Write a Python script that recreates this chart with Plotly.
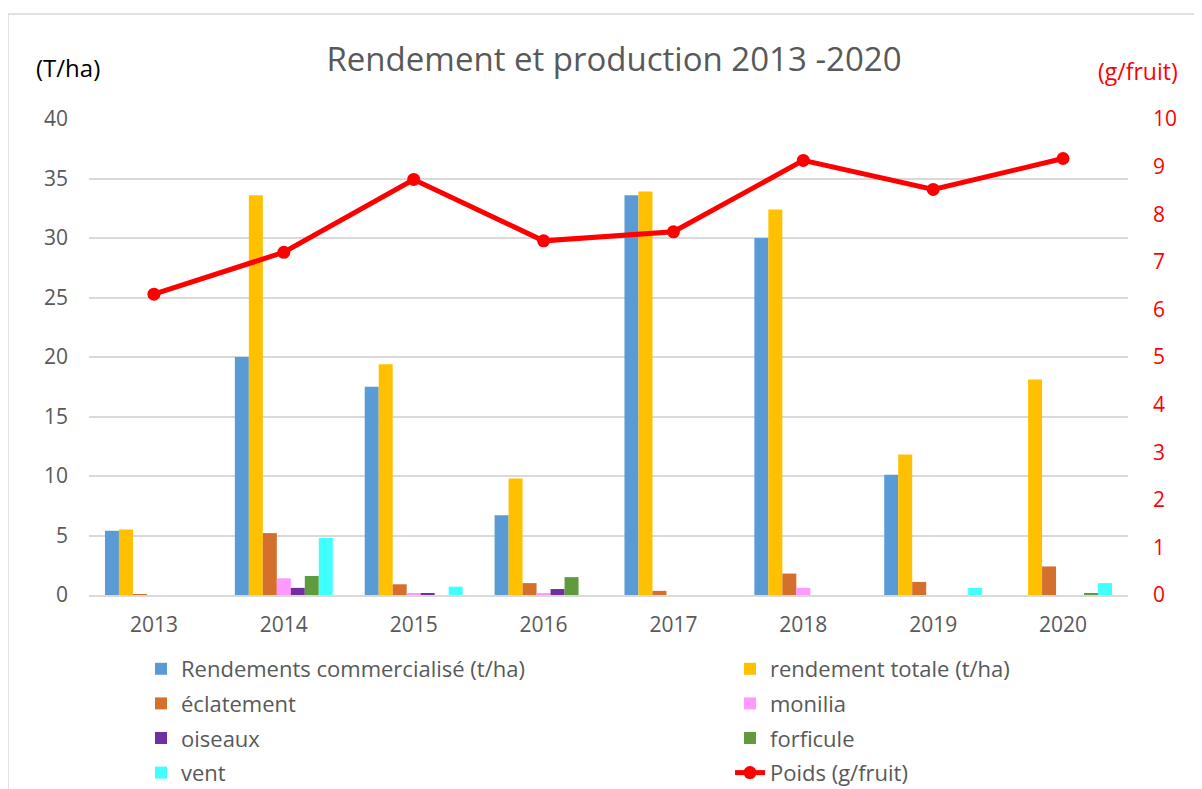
import plotly.graph_objects as go

years = ['2013', '2014', '2015', '2016', '2017', '2018', '2019', '2020']

rdt_commercialise = [5.4, 20.0, 17.5, 6.7, 33.6, 30.0, 10.1, 0]
rdt_totale = [5.5, 33.6, 19.4, 9.8, 33.9, 32.4, 11.8, 18.1]
eclatement = [0.05, 5.2, 0.9, 1.0, 0.35, 1.8, 1.1, 2.4]
monilia = [0, 1.4, 0.15, 0.1, 0, 0.6, 0, 0]
oiseaux = [0, 0.6, 0.15, 0.5, 0, 0, 0, 0]
forficule = [0, 1.6, 0, 1.5, 0, 0, 0, 0.1]
vent = [0, 4.8, 0.7, 0, 0, 0, 0.6, 1.0]
poids = [6.32, 7.2, 8.73, 7.44, 7.63, 9.13, 8.52, 9.17]

FONT = 'Open Sans'
GREY = '#595959'

# the page body adds an 8px offset, so target screen positions are shifted back
OFF = 8
W, H = 1202, 789
# plot area on screen: x 89..1128, y 119..595
L, T = 89 - OFF, 119 - OFF
R, B = W - (1128 - OFF), H - (595 - OFF)
PW, PH = W - L - R, H - T - B


def px(x):
    return (x - 89) / PW


def py(y):
    return (595 - y) / PH


bars = [
    ('Rendements commercialisé (t/ha)', rdt_commercialise, '#5B9BD5', 'legend'),
    ('rendement totale (t/ha)', rdt_totale, '#FFC000', 'legend2'),
    ('éclatement', eclatement, '#D4702C', 'legend'),
    ('monilia', monilia, '#FF99FF', 'legend2'),
    ('oiseaux', oiseaux, '#7030A0', 'legend'),
    ('forficule', forficule, '#5F9B3C', 'legend2'),
    ('vent', vent, '#40FFFF', 'legend'),
]

fig = go.Figure()
for name, vals, color, lg in bars:
    fig.add_trace(go.Bar(x=years, y=vals, name=name, marker=dict(color=color, line=dict(width=0)),
                         legend=lg, legendgroup=name))

fig.add_trace(go.Scatter(x=years, y=poids, name='Poids (g/fruit)', yaxis='y2', mode='lines+markers',
                         line=dict(color='#FF0000', width=5), marker=dict(color='#FF0000', size=13),
                         legend='legend2', legendgroup='poids'))

legend_common = dict(orientation='v', yanchor='top', y=py(648), tracegroupgap=3,
                     font=dict(family=FONT, size=22, color=GREY), bgcolor='rgba(0,0,0,0)')

fig.update_layout(
    width=W, height=H,
    margin=dict(l=L, r=R, t=T, b=B, autoexpand=False),
    paper_bgcolor='white', plot_bgcolor='white',
    font=dict(family=FONT, color=GREY),
    barmode='group', bargap=0.246, bargroupgap=0,
    title=dict(text='Rendement et production 2013 -2020', x=(614 - OFF) / W, xref='container',
               xanchor='center', y=1 - (59 - OFF) / H, yref='container', yanchor='middle',
               font=dict(family=FONT, size=33, color=GREY)),
    xaxis=dict(showgrid=False, showline=True, linecolor='#D9D9D9', linewidth=2, ticks='',
               tickfont=dict(size=21, color=GREY), ticklabelstandoff=10),
    yaxis=dict(range=[0, 40], dtick=5, showgrid=True, gridcolor='#D9D9D9', gridwidth=2, zeroline=False,
               ticks='', tickfont=dict(size=21, color=GREY), ticklabelstandoff=20),
    yaxis2=dict(range=[0, 10], dtick=1, overlaying='y', side='right', showgrid=False, zeroline=False,
                ticks='', tickfont=dict(size=21, color='#FF0000'), ticklabelstandoff=24),
    legend=dict(x=px(141), xanchor='left', **legend_common),
    legend2=dict(x=px(730), xanchor='left', **legend_common),
    showlegend=True,
    annotations=[
        dict(text='(T/ha)', x=px(68), y=py(68), xref='paper', yref='paper', showarrow=False,
             xanchor='center', yanchor='middle', font=dict(family=FONT, size=24, color='#000000')),
        dict(text='(g/fruit)', x=px(1138), y=py(71), xref='paper', yref='paper', showarrow=False,
             xanchor='center', yanchor='middle', font=dict(family=FONT, size=23, color='#FF0000')),
    ],
    shapes=[
        dict(type='rect', xref='paper', yref='paper', x0=px(8), x1=px(1215), y0=py(800), y1=py(14),
             line=dict(color='#D9D9D9', width=1.5), fillcolor='rgba(0,0,0,0)', layer='below'),
    ],
)

fig.write_html('out.html')
